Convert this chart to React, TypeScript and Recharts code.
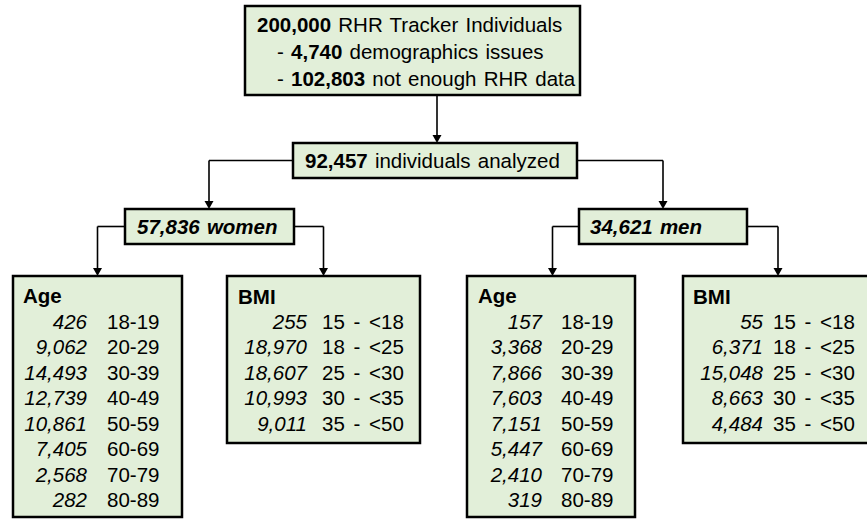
import React from "react";
import { ScatterChart, Scatter, XAxis, YAxis, ReferenceArea, ReferenceLine } from "recharts";

const W = 867;
const H = 519;
const FONT = '"Liberation Sans", Arial, Helvetica, sans-serif';
const FONT_SIZE = 20.5;
const BOX_FILL = "#e2efd9";

// flow counts
const totalTracked = 200000;
const demographicsIssues = 4740;
const notEnoughData = 102803;
const analyzedCount = 92457;
const womenCount = 57836;
const menCount = 34621;

const ageRanges = ["18-19", "20-29", "30-39", "40-49", "50-59", "60-69", "70-79", "80-89"];
const womenAgeCounts = [426, 9062, 14493, 12739, 10861, 7405, 2568, 282];
const menAgeCounts = [157, 3368, 7866, 7603, 7151, 5447, 2410, 319];

const bmiRanges = ["15 - <18", "18 - <25", "25 - <30", "30 - <35", "35 - <50"];
const womenBmiCounts = [255, 18970, 18607, 10993, 9011];
const menBmiCounts = [55, 6371, 15048, 8663, 4484];

const fmt = (n: number) => n.toLocaleString("en-US");

// layout (pixel space == data space, y grows downward)
const boxes = [
  { x1: 245, x2: 580, y1: 6, y2: 95 },
  { x1: 293, x2: 577, y1: 143, y2: 178 },
  { x1: 125, x2: 294, y1: 209, y2: 244 },
  { x1: 579, x2: 747, y1: 209, y2: 244 },
  { x1: 13, x2: 182, y1: 276, y2: 517 },
  { x1: 227, x2: 420, y1: 276, y2: 443 },
  { x1: 467, x2: 635, y1: 276, y2: 517 },
  { x1: 683, x2: 872, y1: 276, y2: 443 },
];

const connectors = [
  [[437, 95], [437, 137]],
  [[293, 160.5], [209, 160.5], [209, 203]],
  [[577, 160.5], [663, 160.5], [663, 203]],
  [[125, 226.5], [97.5, 226.5], [97.5, 270]],
  [[294, 226.5], [323.5, 226.5], [323.5, 270]],
  [[579, 226.5], [552.5, 226.5], [552.5, 270]],
  [[747, 226.5], [778, 226.5], [778, 270]],
];

const arrowTips = [
  { x: 437, y: 143 },
  { x: 209, y: 209 },
  { x: 663, y: 209 },
  { x: 97.5, y: 276 },
  { x: 323.5, y: 276 },
  { x: 552.5, y: 276 },
  { x: 778, y: 276 },
];

type Part = { t: string; bold?: boolean; italic?: boolean };

const labels: { x: number; y: number; parts: Part[] }[] = [
  { x: 257, y: 24.5, parts: [{ t: fmt(totalTracked), bold: true }, { t: " RHR Tracker Individuals" }] },
  { x: 277, y: 51.5, parts: [{ t: "- " }, { t: fmt(demographicsIssues), bold: true }, { t: " demographics issues" }] },
  { x: 277, y: 79, parts: [{ t: "- " }, { t: fmt(notEnoughData), bold: true }, { t: " not enough RHR data" }] },
  { x: 305, y: 161, parts: [{ t: fmt(analyzedCount), bold: true }, { t: " individuals analyzed" }] },
  { x: 137, y: 227, parts: [{ t: `${fmt(womenCount)} women`, bold: true, italic: true }] },
  { x: 590, y: 227, parts: [{ t: `${fmt(menCount)} men`, bold: true, italic: true }] },
  { x: 23, y: 296, parts: [{ t: "Age", bold: true }] },
  { x: 238, y: 296.5, parts: [{ t: "BMI", bold: true }] },
  { x: 478, y: 296, parts: [{ t: "Age", bold: true }] },
  { x: 693, y: 296.5, parts: [{ t: "BMI", bold: true }] },
];

const ROW0 = 321.5;
const ROW_STEP = 25.5;

const tables = [
  { numX: 87, rangeX: 107, counts: womenAgeCounts, ranges: ageRanges },
  { numX: 307, rangeX: 322, counts: womenBmiCounts, ranges: bmiRanges },
  { numX: 542, rangeX: 561, counts: menAgeCounts, ranges: ageRanges },
  { numX: 763, rangeX: 773, counts: menBmiCounts, ranges: bmiRanges },
];

const LabelShape = (props: any) => {
  const { cx, cy, payload } = props;
  return (
    <text
      x={cx}
      y={cy}
      dy="0.35em"
      fontSize={FONT_SIZE}
      fontFamily={FONT}
      fill="#000"
      wordSpacing={1.5}
      style={{ whiteSpace: "pre" }}
    >
      {payload.parts.map((p: Part, i: number) => (
        <tspan key={i} fontWeight={p.bold ? "bold" : "normal"} fontStyle={p.italic ? "italic" : "normal"}>
          {p.t}
        </tspan>
      ))}
    </text>
  );
};

const ArrowShape = (props: any) => {
  const { cx, cy } = props;
  return <polygon points={`${cx - 4.5},${cy - 8} ${cx + 4.5},${cy - 8} ${cx},${cy}`} fill="#000" />;
};

const makeRowShape = (gap: number) => (props: any) => {
  const { cx, cy, payload } = props;
  return (
    <g fontSize={FONT_SIZE} fontFamily={FONT} fill="#000">
      <text x={cx} y={cy} dy="0.35em" textAnchor="end" fontStyle="italic">
        {fmt(payload.count)}
      </text>
      <text x={cx + gap} y={cy} dy="0.35em" wordSpacing={3} style={{ whiteSpace: "pre" }}>
        {payload.range}
      </text>
    </g>
  );
};

export default function App() {
  return (
    <div style={{ position: "fixed", left: 0, top: 0, width: W, height: H, background: "#fff" }}>
      <ScatterChart width={W} height={H} margin={{ top: 0, right: 0, bottom: 0, left: 0 }}>
        <XAxis type="number" dataKey="x" domain={[0, W]} allowDataOverflow hide />
        <YAxis type="number" dataKey="y" domain={[0, H]} allowDataOverflow reversed hide />
        {boxes.map((b, i) => (
          <ReferenceArea
            key={`box-${i}`}
            x1={b.x1}
            x2={b.x2}
            y1={b.y1}
            y2={b.y2}
            fill={BOX_FILL}
            fillOpacity={1}
            stroke="#000"
            strokeWidth={2.5}
            ifOverflow="visible"
          />
        ))}
        {connectors.flatMap((pts, i) =>
          pts.slice(1).map((p, j) => (
            <ReferenceLine
              key={`con-${i}-${j}`}
              segment={[
                { x: pts[j][0], y: pts[j][1] },
                { x: p[0], y: p[1] },
              ]}
              stroke="#000"
              strokeWidth={1.6}
              ifOverflow="visible"
            />
          ))
        )}
        <Scatter data={arrowTips} shape={ArrowShape} isAnimationActive={false} />
        <Scatter data={labels} shape={LabelShape} isAnimationActive={false} />
        {tables.map((t, ti) => (
          <Scatter
            key={`tbl-${ti}`}
            data={t.counts.map((c, i) => ({ x: t.numX, y: ROW0 + i * ROW_STEP, count: c, range: t.ranges[i] }))}
            shape={makeRowShape(t.rangeX - t.numX)}
            isAnimationActive={false}
          />
        ))}
      </ScatterChart>
    </div>
  );
}
